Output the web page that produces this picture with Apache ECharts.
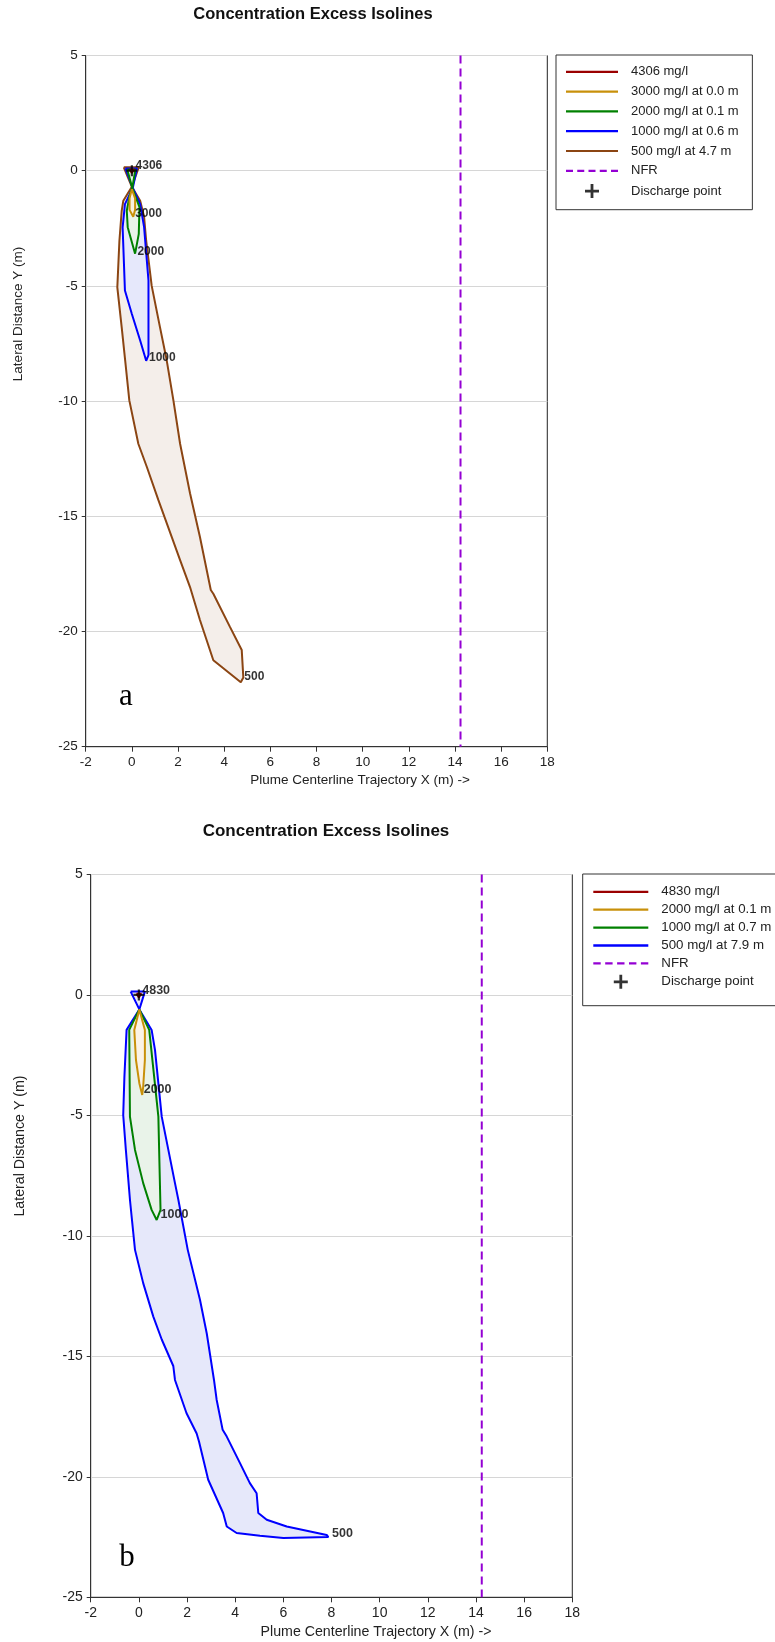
<!DOCTYPE html>
<html><head><meta charset="utf-8">
<script src="https://cdn.jsdelivr.net/npm/echarts@6/dist/echarts.min.js"></script>
<style>html,body{margin:0;padding:0;background:#fff}#c{width:775px;height:1642px}</style>
</head><body><div id="c"></div>
<script>
// ---------- axes ----------
const X_AXIS = [-2, 18, 2];   // min, max, interval
const Y_AXIS = [-25, 5, 5];
const NFR_X_A = 14.24;
const NFR_X_B = 14.24;
const DISCHARGE = [0, 0];

// ---------- chart a contours (x, y in m) ----------
const a500 = [[-0.35,0.15],[0.3,0.15],[0.0,-0.7],[0.36,-1.3],[0.53,-2.0],[0.62,-3.04],[0.86,-5.0],[1.22,-6.8],[1.51,-8.23],[1.8,-9.97],[2.09,-11.85],[2.52,-14.0],[2.95,-15.9],[3.42,-18.2],[3.53,-18.36],[4.25,-19.8],[4.76,-20.8],[4.83,-22.0],[4.72,-22.2],[3.53,-21.25],[2.95,-19.5],[2.52,-18.07],[2.09,-16.9],[1.73,-15.9],[1.15,-14.3],[0.65,-12.86],[0.28,-11.85],[-0.11,-9.97],[-0.29,-8.23],[-0.44,-6.8],[-0.63,-5.06],[-0.54,-3.05],[-0.44,-1.74],[-0.37,-1.3],[0.0,-0.7],[-0.35,0.15]];
const a1000 = [[-0.28,0.1],[0.22,0.1],[0.04,-0.75],[0.36,-1.45],[0.53,-2.45],[0.72,-4.76],[0.72,-8.0],[0.62,-8.25],[0.36,-7.37],[0.0,-6.22],[-0.3,-5.2],[-0.4,-2.46],[-0.3,-1.45],[0.04,-0.75],[-0.28,0.1]];
const a2000 = [[-0.2,0.05],[0.15,0.05],[0.02,-0.75],[0.33,-1.58],[0.3,-2.74],[0.14,-3.6],[0.1,-3.65],[-0.18,-2.45],[-0.22,-1.74],[-0.1,-1.1],[0.02,-0.75],[-0.2,0.05]];
const a3000 = [[0.0,-0.8],[0.14,-1.2],[0.14,-1.7],[0.06,-2.0],[-0.1,-1.7],[-0.1,-1.2],[0.0,-0.8]];
const a4306 = [[-0.1,0.05],[0.1,0.05],[0.0,-0.1],[-0.1,0.05]];
const labelsA_text = ['4306','3000','2000','1000','500'];
const labelsA_pos = [[0.14,0.2],[0.12,-1.85],[0.22,-3.5],[0.72,-8.1],[4.85,-21.95]];
const legendA_names = ['4306 mg/l','3000 mg/l at 0.0 m','2000 mg/l at 0.1 m','1000 mg/l at 0.6 m','500 mg/l at 4.7 m','NFR','Discharge point'];

// ---------- chart b contours ----------
const b500 = [[-0.34,0.14],[0.25,0.14],[0.02,-0.6],[0.53,-1.45],[0.67,-2.28],[0.95,-5.05],[1.5,-7.81],[1.64,-8.5],[2.03,-10.58],[2.54,-12.66],[2.82,-14.05],[3.12,-15.98],[3.23,-16.8],[3.48,-18.05],[3.65,-18.33],[4.2,-19.43],[4.61,-20.26],[4.89,-20.68],[4.96,-21.5],[5.31,-21.78],[6.14,-22.06],[7.8,-22.41],[7.87,-22.5],[6.0,-22.54],[5.03,-22.45],[4.06,-22.33],[3.65,-22.06],[3.5,-21.5],[2.88,-20.12],[2.5,-18.54],[2.4,-18.2],[1.98,-17.36],[1.5,-15.98],[1.43,-15.4],[0.95,-14.3],[0.6,-13.35],[0.18,-11.96],[-0.16,-10.58],[-0.3,-9.2],[-0.37,-8.5],[-0.54,-6.43],[-0.65,-4.98],[-0.6,-3.39],[-0.51,-1.45],[0.02,-0.6],[-0.34,0.14]];
const b1000 = [[0.02,-0.6],[0.43,-1.45],[0.81,-5.05],[0.9,-8.92],[0.74,-9.34],[0.53,-8.92],[0.18,-7.81],[-0.16,-6.43],[-0.37,-5.05],[-0.4,-1.45],[0.02,-0.6]];
const b2000 = [[0.02,-0.6],[0.25,-1.45],[0.25,-2.7],[0.18,-3.8],[0.14,-4.15],[0.02,-3.66],[-0.12,-2.7],[-0.19,-1.45],[0.02,-0.6]];
const b4830 = [[-0.1,0.05],[0.1,0.05],[0.0,-0.1],[-0.1,0.05]];
const labelsB_text = ['4830','2000','1000','500'];
const labelsB_pos = [[0.12,0.2],[0.18,-3.94],[0.88,-9.13],[8.0,-22.35]];
const legendB_names = ['4830 mg/l','2000 mg/l at 0.1 m','1000 mg/l at 0.7 m','500 mg/l at 7.9 m','NFR','Discharge point'];

// ---------- styles ----------
const RED = '#9b0000', ORANGE = '#c8900a', GREEN = '#008000', BLUE = '#0000ff', BROWN = '#8b4513', NFR_C = '#9400d3';
const FONT = "'Liberation Sans', Arial, sans-serif";
const PLUS = 'path://M4,0H6V4H10V6H6V10H4V6H0V4H4Z';
const ICON_SOLID = 'path://M0,0H52V2.2H0Z';
const ICON_DASH = 'path://M0,0H7V2.2H0Z M11.25,0H18.25V2.2H11.25Z M22.5,0H29.5V2.2H22.5Z M33.75,0H40.75V2.2H33.75Z M45,0H52V2.2H45Z';

let zc = 2;
function contour(prefix, name, pts, color, fill, gi) {
  const out = [];
  if (fill) {
    out.push({type:'custom', xAxisIndex:gi, yAxisIndex:gi, silent:true, z:zc++, animation:false,
      data:[pts[0]],
      renderItem:(p, api) => ({type:'polygon', shape:{points: pts.map(q => api.coord(q))}, style:{fill:fill}})});
  }
  out.push({type:'line', name: prefix + name, xAxisIndex:gi, yAxisIndex:gi, data: pts, symbol:'none', showSymbol:false,
    lineStyle:{color:color, width:2}, itemStyle:{color:color}, z:zc++, animation:false, silent:true});
  return out;
}
function labelSeries(texts, pos, gi, fs) {
  return {type:'scatter', xAxisIndex:gi, yAxisIndex:gi, symbolSize:1, itemStyle:{color:'rgba(0,0,0,0)'}, z:50, silent:true,
    data: texts.map((t,i) => ({name:t, value:pos[i]})),
    label:{show:true, position:'right', distance:0, formatter:'{b}', fontFamily:FONT, fontWeight:'bold', fontSize:fs, color:'#000'},
    labelLayout:{hideOverlap:false}};
}
function nfrSeries(prefix, x, gi) {
  return {type:'line', name: prefix + 'NFR', xAxisIndex:gi, yAxisIndex:gi, data:[[x, Y_AXIS[1]],[x, Y_AXIS[0]]], symbol:'none',
    lineStyle:{color:NFR_C, width:2, type:[8,5]}, itemStyle:{color:NFR_C}, z:40, silent:true, animation:false};
}
function dischargeSeries(prefix, gi) {
  return {type:'scatter', name: prefix + 'Discharge point', xAxisIndex:gi, yAxisIndex:gi, data:[DISCHARGE], symbol:PLUS, symbolSize:11,
    itemStyle:{color:'#000'}, z:45, silent:true, animation:false};
}

const series = [
  ...contour('A_', '500 mg/l at 4.7 m', a500, BROWN, '#f4eeea', 0),
  ...contour('A_', '1000 mg/l at 0.6 m', a1000, BLUE, '#e6e8fb', 0),
  ...contour('A_', '2000 mg/l at 0.1 m', a2000, GREEN, '#e9f3e9', 0),
  ...contour('A_', '3000 mg/l at 0.0 m', a3000, ORANGE, '#faf1e0', 0),
  ...contour('A_', '4306 mg/l', a4306, RED, null, 0),
  nfrSeries('A_', NFR_X_A, 0),
  dischargeSeries('A_', 0),
  labelSeries(labelsA_text, labelsA_pos, 0, 12),
  ...contour('B_', '500 mg/l at 7.9 m', b500, BLUE, '#e6e8fa', 1),
  ...contour('B_', '1000 mg/l at 0.7 m', b1000, GREEN, '#e9f3e9', 1),
  ...contour('B_', '2000 mg/l at 0.1 m', b2000, ORANGE, '#fbf3e6', 1),
  ...contour('B_', '4830 mg/l', b4830, RED, null, 1),
  nfrSeries('B_', NFR_X_B, 1),
  dischargeSeries('B_', 1),
  labelSeries(labelsB_text, labelsB_pos, 1, 12.5)
];

function xAxis(gi, fs) {
  return {gridIndex:gi, type:'value', min:X_AXIS[0], max:X_AXIS[1], interval:X_AXIS[2],
    axisLine:{show:true, onZero:false, lineStyle:{color:'#333', width:1}},
    axisTick:{show:true, length:5, lineStyle:{color:'#333'}},
    axisLabel:{margin:9, fontFamily:FONT, fontSize:fs, color:'#222'},
    splitLine:{show:false}};
}
function yAxis(gi, fs) {
  return {gridIndex:gi, type:'value', min:Y_AXIS[0], max:Y_AXIS[1], interval:Y_AXIS[2],
    axisLine:{show:true, onZero:false, lineStyle:{color:'#333', width:1}},
    axisTick:{show:true, length:4, lineStyle:{color:'#333'}},
    axisLabel:{margin:8, fontFamily:FONT, fontSize:fs, color:'#222'},
    splitLine:{show:true, lineStyle:{color:'#d6d6d6', width:1}}};
}
const stripPrefix = n => n.replace(/^[AB]_/, '');
function legendData(prefix, names) {
  return names.map(n => {
    const item = {name: prefix + n};
    if (n === 'NFR') item.icon = ICON_DASH;
    else if (n !== 'Discharge point') item.icon = ICON_SOLID;
    return item;
  });
}

const option = {
  animation:false,
  backgroundColor:'#fff',
  title:[
    {text:'Concentration Excess Isolines', left:313, top:6, textAlign:'center', padding:0,
      textStyle:{fontFamily:FONT, fontWeight:'bold', fontSize:16.5, color:'#111'}},
    {text:'Concentration Excess Isolines', left:326, top:823, textAlign:'center', padding:0,
      textStyle:{fontFamily:FONT, fontWeight:'bold', fontSize:17, color:'#111'}}
  ],
  grid:[
    {left:85.7, top:55.5, width:461.6, height:691.2, show:true, borderColor:'#222', borderWidth:1, backgroundColor:'#fff', containLabel:false},
    {left:90.7, top:874.5, width:481.6, height:722.8, show:true, borderColor:'#222', borderWidth:1, backgroundColor:'#fff', containLabel:false}
  ],
  xAxis:[xAxis(0, 13.5), xAxis(1, 14)],
  yAxis:[yAxis(0, 13.5), yAxis(1, 14)],
  legend:[
    {orient:'vertical', left:556, top:55, padding:[10.3, 13.7, 11.6, 10], itemWidth:52, itemHeight:14, itemGap:6.8,
      borderColor:'#333', borderWidth:1, backgroundColor:'#fff', selectedMode:false, formatter:stripPrefix,
      textStyle:{fontFamily:FONT, fontSize:13, color:'#222', padding:[0,0,0,8]},
      data: legendData('A_', legendA_names)},
    {orient:'vertical', left:582.7, top:874, padding:[11.3, 30, 16.9, 10.6], itemWidth:55, itemHeight:14, itemGap:4.9,
      borderColor:'#333', borderWidth:1, backgroundColor:'#fff', selectedMode:false, formatter:stripPrefix,
      textStyle:{fontFamily:FONT, fontSize:13.3, color:'#222', padding:[0,0,0,8]},
      data: legendData('B_', legendB_names)}
  ],
  graphic:[
    {type:'text', x:18.3, y:314, rotation:Math.PI/2, style:{text:'Lateral Distance Y (m)', font:"13.5px 'Liberation Sans', Arial, sans-serif", fill:'#222', align:'center', verticalAlign:'middle'}},
    {type:'text', x:20, y:1146, rotation:Math.PI/2, style:{text:'Lateral Distance Y (m)', font:"14.2px 'Liberation Sans', Arial, sans-serif", fill:'#222', align:'center', verticalAlign:'middle'}},
    {type:'text', x:360, y:780, style:{text:'Plume Centerline Trajectory X (m) ->', font:"13.5px 'Liberation Sans', Arial, sans-serif", fill:'#222', align:'center', verticalAlign:'middle'}},
    {type:'text', x:376, y:1632, style:{text:'Plume Centerline Trajectory X (m) ->', font:"14.2px 'Liberation Sans', Arial, sans-serif", fill:'#222', align:'center', verticalAlign:'middle'}},
    {type:'text', x:126, y:697, z:100, style:{text:'a', font:"31px 'Liberation Serif', 'Times New Roman', serif", fill:'#000', align:'center', verticalAlign:'middle'}},
    {type:'text', x:127, y:1558, z:100, style:{text:'b', font:"31px 'Liberation Serif', 'Times New Roman', serif", fill:'#000', align:'center', verticalAlign:'middle'}}
  ],
  series: series
};
const chart = echarts.init(document.getElementById('c'), null, {renderer:'canvas'});
chart.setOption(option);
</script></body></html>
